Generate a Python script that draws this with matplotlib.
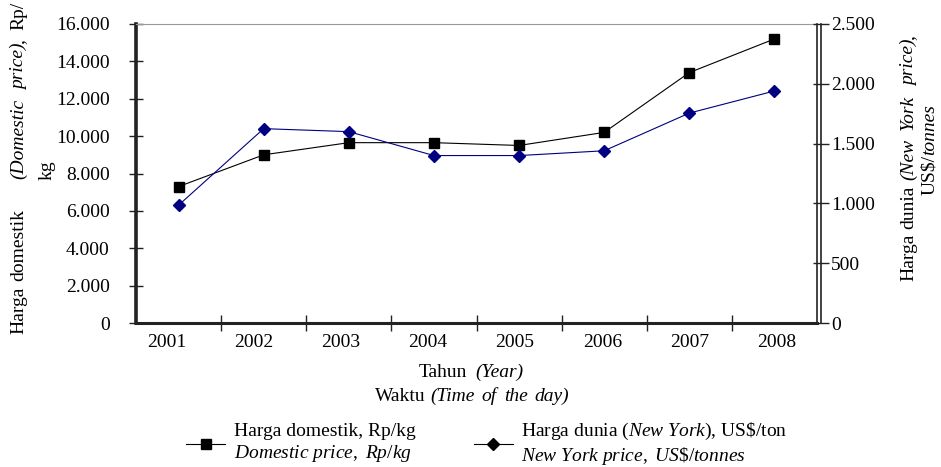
import matplotlib
matplotlib.use("Agg")
import matplotlib.pyplot as plt
from matplotlib.lines import Line2D
from matplotlib.ticker import FuncFormatter, FixedLocator
from matplotlib.transforms import ScaledTranslation

plt.rcParams['font.family'] = ['Liberation Serif', 'DejaVu Serif']
plt.rcParams['mathtext.fontset'] = 'custom'
plt.rcParams['mathtext.rm'] = 'Liberation Serif'
plt.rcParams['mathtext.it'] = 'Liberation Serif:italic'
plt.rcParams['font.size'] = 14

years = ['2001', '2002', '2003', '2004', '2005', '2006', '2007', '2008']
domestic = [7300, 9000, 9650, 9650, 9500, 10200, 13400, 15200]      # Rp/kg
newyork = [985, 1625, 1600, 1400, 1400, 1440, 1755, 1940]          # US$/tonnes

left_ticks = [0, 2000, 4000, 6000, 8000, 10000, 12000, 14000, 16000]
right_ticks = [0, 500, 1000, 1500, 2000, 2500]

W, H = 941, 467


def dot_thousands(v, pos):
    return f"{v:,.0f}".replace(",", ".")


def mixed_text(ax, cx, cy, parts, rotation=0):
    """Text made of normal/italic pieces, centred on (cx, cy) in pixels.
    parts: (gap before piece in px, text, style)"""
    fig = ax.figure
    first = fig.text(cx / W, 1 - cy / H, parts[0][1], style=parts[0][2],
                     rotation=rotation, ha='left', va='bottom')
    items = [first]
    prev = first
    for gap, s, st in parts[1:]:
        if rotation == 0:
            t = ax.annotate(s, xy=(1, 0), xycoords=prev, xytext=(gap * 0.72, 0),
                            textcoords='offset points', ha='left', va='bottom',
                            style=st, annotation_clip=False)
        else:
            t = ax.annotate(s, xy=(0, 1), xycoords=prev, xytext=(0, gap * 0.72),
                            textcoords='offset points', ha='left', va='bottom',
                            rotation=rotation, style=st, annotation_clip=False)
        items.append(t)
        prev = t
    return first, items


fig = plt.figure(figsize=(W / 100, H / 100), dpi=100)
ax = fig.add_axes([136 / W, 1 - 323 / H, (817 - 136) / W, (323 - 24) / H])
ax2 = ax.twinx()

x = list(range(len(years)))
ax.plot(x, domestic, color='black', lw=0.8, marker='s', ms=7)
ax2.plot(x, newyork, color='#000080', lw=0.8, marker='D', ms=5.8)

ax.set_xlim(-0.5, len(years) - 0.5)
ax.set_ylim(0, 16000)
ax2.set_ylim(0, 2500)

# spines
ax.spines['left'].set_linewidth(2.6)
ax.spines['left'].set_color('#222222')
ax.spines['bottom'].set_linewidth(2.2)
ax.spines['bottom'].set_color('#222222')
ax.spines['top'].set_color('#999999')
ax.spines['top'].set_linewidth(0.8)
ax.spines['right'].set_linewidth(1.2)
ax.spines['right'].set_color('#222222')
for s in ['left', 'top', 'bottom']:
    ax2.spines[s].set_visible(False)
ax2.spines['right'].set_position(('outward', 2.8))
ax2.spines['right'].set_linewidth(1.2)
ax2.spines['right'].set_color('#222222')

# y ticks
ax.yaxis.set_major_locator(FixedLocator(left_ticks))
ax.yaxis.set_major_formatter(FuncFormatter(dot_thousands))
ax.tick_params(axis='y', direction='inout', length=10, width=1, pad=14, color='#222222')
ax2.yaxis.set_major_locator(FixedLocator(right_ticks))
ax2.yaxis.set_major_formatter(FuncFormatter(dot_thousands))
ax2.tick_params(axis='y', direction='inout', length=11, width=1, pad=2, color='#222222')

# x ticks: marks at category boundaries, labels at centres (spread a bit wider)
ax.set_xticks(x)
ax.set_xticklabels(years)
ax.set_xticks([i + 0.5 for i in x[:-1]], minor=True)
ax.tick_params(axis='x', which='major', length=0, pad=8)
ax.tick_params(axis='x', which='minor', direction='inout', length=12, width=1, color='#222222')
for i, lab in enumerate(ax.get_xticklabels()):
    shift = ScaledTranslation((-12 + 2 * i) / 100, 0, fig.dpi_scale_trans)
    lab.set_transform(lab.get_transform() + shift)

# axis titles
titles = [
    (19, 168, 90, [(0, "Harga", 'normal'), (6, "domestik", 'normal'),
                   (30, "(Domestic", 'italic'), (9, "price)", 'italic'),
                   (0, ",", 'normal'), (9, "Rp/", 'normal')]),
    (47, 170, 90, [(0, "kg", 'normal')]),
    (909, 158, 90, [(0, "Harga", 'normal'), (5, "dunia", 'normal'),
                    (5, "(New", 'italic'), (9, "York", 'italic'),
                    (9, "price)", 'italic'), (0, ",", 'normal')]),
    (930, 150, 90, [(0, "US$/", 'normal'), (0, "tonnes", 'italic')]),
    (471, 372, 0, [(0, "Tahun", 'normal'), (9, "(Year)", 'italic')]),
    (472, 396, 0, [(0, "Waktu", 'normal'), (5, "(Time", 'italic'), (7, "of", 'italic'),
                   (7, "the", 'italic'), (7, "day)", 'italic')]),
]
made = [(cx, cy) + mixed_text(ax, cx, cy, parts, rot) for cx, cy, rot, parts in titles]

# legend
handles = [Line2D([], [], color='black', lw=0.8, marker='s', ms=7),
           Line2D([], [], color='black', lw=0.8, marker='D', ms=5.8)]
labels = ["Harga domestik, Rp/kg\n$\\it{Domestic\\ price,\\ Rp/kg}$",
          "Harga dunia ($\\it{New\\ York}$), US\\$/ton\n$\\it{New\\ York\\ price,\\ US\\$/tonnes}$"]
fig.legend(handles, labels, loc='center', bbox_to_anchor=(487 / W, 1 - 444 / H),
           ncol=2, frameon=False, handlelength=2.0, handletextpad=0.45,
           columnspacing=3.0, borderpad=0.1)

# centre the pieced titles on their targets
fig.canvas.draw()
r = fig.canvas.get_renderer()
for cx, cy, first, items in made:
    boxes = [t.get_window_extent(r) for t in items]
    x0 = min(b.x0 for b in boxes)
    x1 = max(b.x1 for b in boxes)
    y0 = min(b.y0 for b in boxes)
    y1 = max(b.y1 for b in boxes)
    dx = cx - (x0 + x1) / 2
    dy = (H - cy) - (y0 + y1) / 2
    px, py = first.get_position()
    first.set_position((px + dx / W, py + dy / H))

fig.savefig('out.png', dpi=100)
